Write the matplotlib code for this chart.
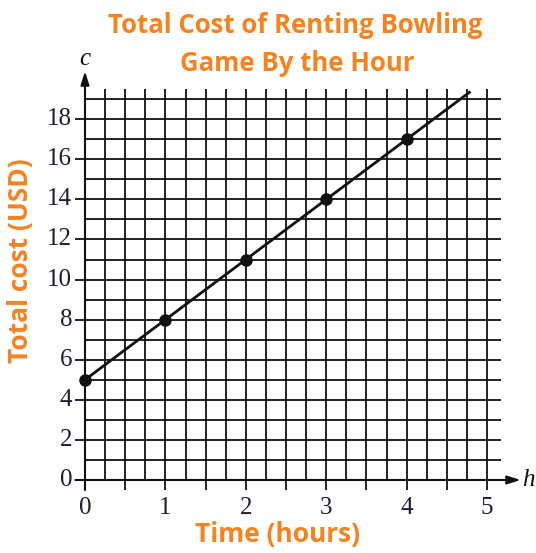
import numpy as np
import matplotlib
matplotlib.use("Agg")
import matplotlib.pyplot as plt

# Data: total cost c (USD) after h hours
hours = [0, 1, 2, 3, 4]
cost = [5, 8, 11, 14, 17]
x_ticks = [0, 1, 2, 3, 4, 5]
y_ticks = [0, 2, 4, 6, 8, 10, 12, 14, 16, 18]
line_end_h = 4.78

title_lines = ["Total Cost of Renting Bowling", "Game By the Hour"]
xlabel = "Time (hours)"
ylabel = "Total cost (USD)"

orange = "#F7821E"
ink = "#111111"
num_color = "#1c1f33"

fig = plt.figure(figsize=(5.36, 5.53), dpi=100)
ax = fig.add_axes([0, 0, 1, 1])
ax.set_xlim(-1.057, 5.609)
ax.set_ylim(-3.643, 23.95)
ax.axis("off")

# vertical grid lines every quarter hour, with stubs below axis at half hours
for xv in np.arange(0.25, 5.01, 0.25):
    bottom = -0.5 if abs(xv * 2 - round(xv * 2)) < 1e-9 else 0
    ax.plot([xv, xv], [bottom, 19.5], color=ink, lw=1.3, solid_capstyle="butt", zorder=1)

# horizontal grid lines every dollar, with stubs left of axis at even values
for yv in range(1, 20):
    left = -0.12 if yv % 2 == 0 else 0
    ax.plot([left, 5.17], [yv, yv], color=ink, lw=1.3, solid_capstyle="butt", zorder=1)

# axes with arrowheads
ax.annotate("", xy=(5.42, 0), xytext=(-0.12, 0),
            arrowprops=dict(arrowstyle="-|>,head_length=0.8,head_width=0.25",
                            color=ink, lw=1.5, shrinkA=0, shrinkB=0), zorder=2)
ax.annotate("", xy=(0, 20.4), xytext=(0, -0.5),
            arrowprops=dict(arrowstyle="-|>,head_length=0.8,head_width=0.25",
                            color=ink, lw=1.5, shrinkA=0, shrinkB=0), zorder=2)
ax.text(5.52, 0, "h", fontsize=18, fontstyle="italic", family="Liberation Serif",
        color=ink, ha="center", va="center")
ax.text(0.0, 21.0, "c", fontsize=18, fontstyle="italic", family="Liberation Serif",
        color=ink, ha="center", va="center")

# tick labels
for xv in x_ticks:
    ax.text(xv, -1.4, str(xv), fontsize=18, family="Liberation Serif",
            color=num_color, ha="center", va="center")
for yv in y_ticks:
    ax.text(-0.16, yv, str(yv), fontsize=18, family="Liberation Serif",
            color=num_color, ha="right", va="center")

# cost line and data points
h_line = np.array([0, line_end_h])
slope = (cost[-1] - cost[0]) / (hours[-1] - hours[0])
ax.plot(h_line, cost[0] + slope * h_line, color=ink, lw=2.0, zorder=3)
ax.plot(hours, cost, "o", color=ink, ms=8, zorder=4)

# titles and labels
ax.text(2.62, 22.3, title_lines[0], fontsize=18.5, fontweight="bold", family="Open Sans",
        color=orange, ha="center", va="baseline")
ax.text(2.64, 20.4, title_lines[1], fontsize=18.5, fontweight="bold", family="Open Sans",
        color=orange, ha="center", va="baseline")
ax.text(2.4, -2.7, xlabel, fontsize=19, fontweight="bold", family="Open Sans",
        color=orange, ha="center", va="center")
ax.text(-0.8, 10.95, ylabel, fontsize=19, fontweight="bold", family="Open Sans",
        color=orange, ha="center", va="center", rotation=90)

fig.savefig("out.png", dpi=100)
